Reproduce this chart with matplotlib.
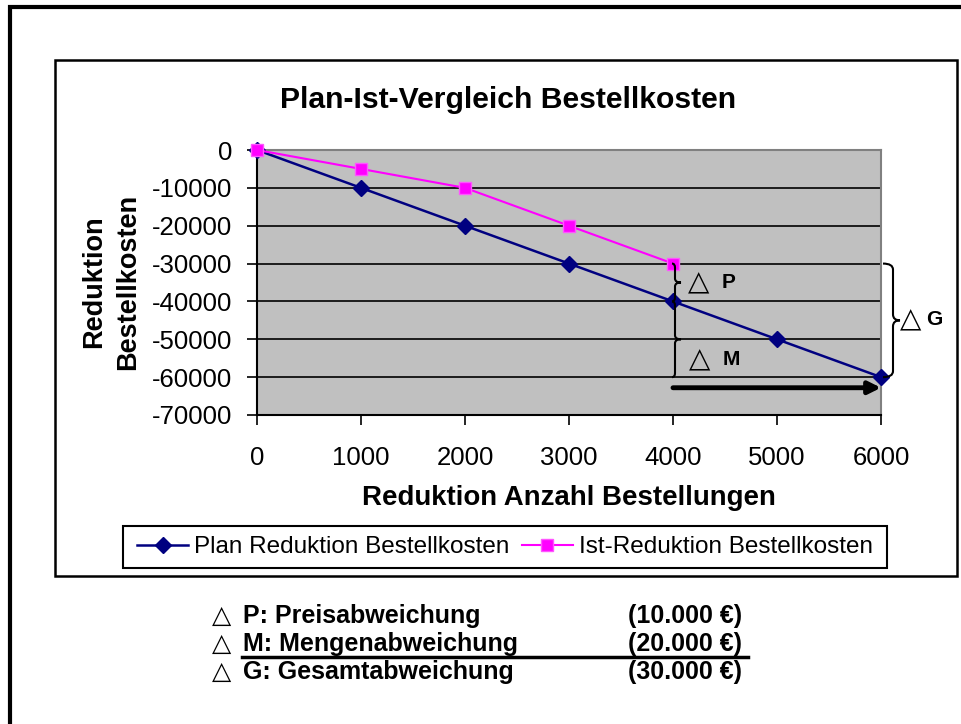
import matplotlib
matplotlib.use('Agg')
import matplotlib.pyplot as plt
from matplotlib.path import Path
from matplotlib.patches import PathPatch, Rectangle
from matplotlib.lines import Line2D

# ---- data ----
x_plan = [0, 1000, 2000, 3000, 4000, 5000, 6000]
y_plan = [0, -10000, -20000, -30000, -40000, -50000, -60000]
x_ist = [0, 1000, 2000, 3000, 4000]
y_ist = [0, -5000, -10000, -20000, -30000]
x_ticks = [0, 1000, 2000, 3000, 4000, 5000, 6000]
y_ticks = [0, -10000, -20000, -30000, -40000, -50000, -60000, -70000]

title = 'Plan-Ist-Vergleich Bestellkosten'
xlabel = 'Reduktion Anzahl Bestellungen'
ylabel_lines = ['Reduktion', 'Bestellkosten']
series_names = ['Plan Reduktion Bestellkosten', 'Ist-Reduktion Bestellkosten']
notes = [('P: Preisabweichung', '(10.000 €)'),
         ('M: Mengenabweichung', '(20.000 €)'),
         ('G: Gesamtabweichung', '(30.000 €)')]

W, H = 961, 724
plt.rcParams['font.family'] = ['Liberation Sans', 'DejaVu Sans']
fig = plt.figure(figsize=(W / 100, H / 100), dpi=100)


def fx(px):
    return px / W


def fy(py):
    return 1 - py / H


# frames
fig.patches.append(Rectangle((fx(10), fy(760)), fx(975) - fx(10), fy(7) - fy(760),
                             transform=fig.transFigure, fill=False, lw=3, ec='black'))
fig.patches.append(Rectangle((fx(55), fy(576)), fx(957) - fx(55), fy(60) - fy(576),
                             transform=fig.transFigure, fill=False, lw=1.8, ec='black'))

ax = fig.add_axes([fx(257), fy(415), (881 - 257) / W, (415 - 150) / H])
ax.set_facecolor('#C0C0C0')
ax.set_xlim(0, 6000)
ax.set_ylim(-70000, 0)
ax.set_xticks(x_ticks)
ax.set_yticks(y_ticks)
ax.set_xticklabels([str(v) for v in x_ticks])
ax.set_yticklabels([str(v) for v in y_ticks])
ax.grid(axis='y', color='black', lw=1.2)
ax.set_axisbelow(True)
for s in ['left', 'bottom']:
    ax.spines[s].set_color('black')
    ax.spines[s].set_linewidth(1.5)
for s in ['top', 'right']:
    ax.spines[s].set_color('#808080')
    ax.spines[s].set_linewidth(1.5)
ax.tick_params(axis='y', direction='out', length=7, width=1.2, pad=11, labelsize=18.5)
ax.tick_params(axis='x', direction='out', length=7, width=1.2, pad=15, labelsize=18.5)

ax.plot(x_plan, y_plan, color='#000080', lw=1.8, marker='D', ms=8, mfc='#000080', mec='#000080',
        zorder=3, clip_on=False)
ax.plot(x_ist, y_ist, color='#FF00FF', lw=1.5, marker='s', ms=9, mfc='#FF00FF', mec='#FF55FF',
        zorder=4, clip_on=False)

# title and axis labels
fig.text(fx(508), fy(100), title, ha='center', va='center', fontsize=21.7, fontweight='bold')
fig.text(fx(569), fy(498), xlabel, ha='center', va='center', fontsize=19.9, fontweight='bold')
fig.text(fx(94), fy(282), ylabel_lines[0], ha='center', va='center', rotation=90, fontsize=19.5, fontweight='bold')
fig.text(fx(128), fy(282), ylabel_lines[1], ha='center', va='center', rotation=90, fontsize=19.5, fontweight='bold')


# braces (built in display pixels from data anchors)
def brace(xdata, y_top, y_bot, dx_vert, end_back, tip, r=5):
    (xa, ya) = ax.transData.transform((xdata, y_top))
    (_, yb) = ax.transData.transform((xdata, y_bot))
    xv = xa + dx_vert
    xe = xv - end_back
    xt = xv + tip
    ym = (ya + yb) / 2
    verts = [(xe, ya), (xv, ya), (xv, ya - r), (xv, ym + r), (xv, ym), (xt, ym),
             (xv, ym), (xv, ym - r), (xv, yb + r), (xv, yb), (xe, yb)]
    codes = [Path.MOVETO, Path.CURVE3, Path.CURVE3, Path.LINETO, Path.CURVE3, Path.CURVE3,
             Path.CURVE3, Path.CURVE3, Path.LINETO, Path.CURVE3, Path.CURVE3]
    p = PathPatch(Path(verts, codes), fill=False, lw=1.5, ec='black',
                  transform=None, clip_on=False, zorder=6)
    fig.patches.append(p)


brace(x_ist[-1], y_ist[-1], y_plan[4], 2, 3, 6, r=4)
brace(x_ist[-1], y_plan[4], y_plan[-1], 2, 3, 6, r=4)
brace(x_plan[-1], y_ist[-1], y_plan[-1], 12, 10, 7, r=6)

# arrow from 4000 to 6000 below the plan point
ax.annotate('', xy=(x_plan[-1], -62800), xytext=(x_ist[-1], -62800),
            arrowprops=dict(arrowstyle='-|>', lw=3.5, color='black', mutation_scale=18,
                            shrinkA=0, shrinkB=0), annotation_clip=False, zorder=6)

tri = '\u25B3'
ax.text(4250, -35000, tri, ha='center', va='center', fontsize=20, family='DejaVu Sans', zorder=7)
ax.text(4470, -35000, 'P', ha='left', va='center', fontsize=15, fontweight='bold', zorder=7)
ax.text(4260, -55300, tri, ha='center', va='center', fontsize=20, family='DejaVu Sans', zorder=7)
ax.text(4480, -55300, 'M', ha='left', va='center', fontsize=15, fontweight='bold', zorder=7)
ax.text(6280, -44800, tri, ha='center', va='center', fontsize=20, family='DejaVu Sans', zorder=7, clip_on=False)
ax.text(6430, -44800, 'G', ha='left', va='center', fontsize=15, fontweight='bold', zorder=7, clip_on=False)

# legend
fig.patches.append(Rectangle((fx(123), fy(568)), fx(887) - fx(123), fy(526) - fy(568),
                             transform=fig.transFigure, fill=False, lw=1.5, ec='black'))
handles = [Line2D([], [], color='#000080', lw=1.8, marker='D', ms=8),
           Line2D([], [], color='#FF00FF', lw=1.5, marker='s', ms=9, mec='#FF55FF')]
leg = fig.legend(handles, series_names, loc='center', bbox_to_anchor=(fx(505), fy(547)),
                 ncol=2, frameon=False, fontsize=17.5, handlelength=2.1, handletextpad=0.25,
                 columnspacing=0.5, borderpad=0.2)

# notes below
rows_y = [623, 651, 679]
for (lab, amt), yb in zip(notes, rows_y):
    fig.text(fx(222), fy(yb), tri, ha='center', va='baseline', fontsize=18, family='DejaVu Sans')
    fig.text(fx(243), fy(yb), lab, ha='left', va='baseline', fontsize=18, fontweight='bold')
    fig.text(fx(628), fy(yb), amt, ha='left', va='baseline', fontsize=18, fontweight='bold')
fig.add_artist(Line2D([fx(242), fx(748)], [fy(657), fy(657)], transform=fig.transFigure,
                      color='black', lw=2.5))

fig.savefig('out.png', dpi=100)
